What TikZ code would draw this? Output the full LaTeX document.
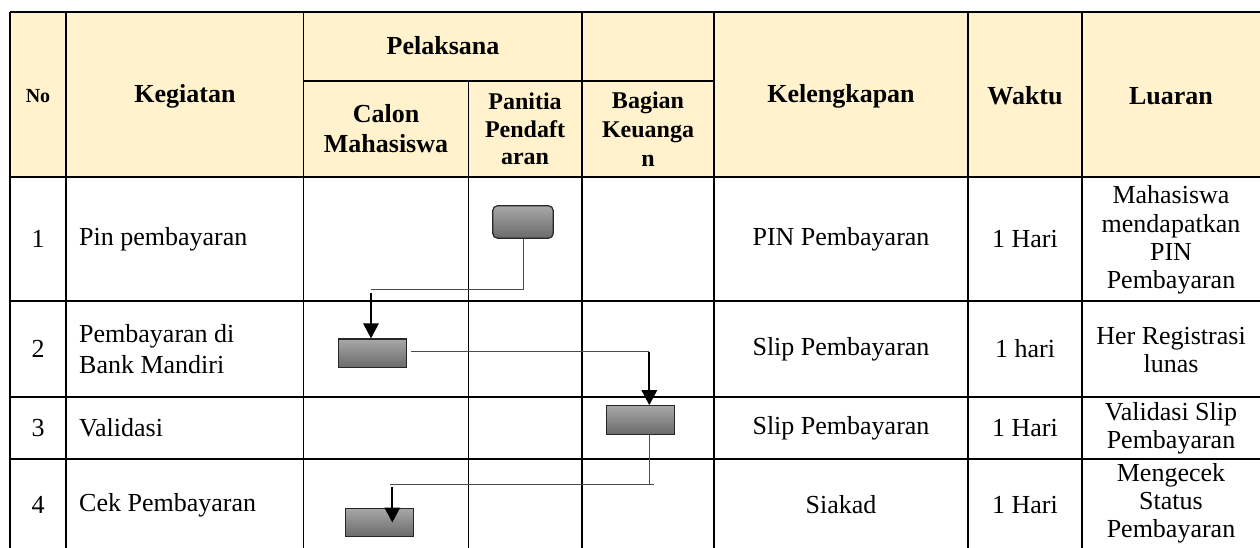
\documentclass[tikz,border=0pt]{standalone}
\usepackage{fontspec}
\setmainfont{Liberation Serif}
\usetikzlibrary{arrows.meta}
\definecolor{headfill}{HTML}{FFF2CC}
\definecolor{boxtop}{HTML}{A8A8A8}
\definecolor{boxbot}{HTML}{6A6A6A}
\tikzset{
  tabline/.style={line width=1.8pt},
  headtext/.style={font=\bfseries\fontsize{26}{30}\selectfont, align=center, inner sep=0pt},
  celltext/.style={font=\fontsize{26}{29}\selectfont, align=center, inner sep=0pt},
  flowbox/.style={draw=black!85, line width=1.2pt, top color=boxtop, bottom color=boxbot, inner sep=0pt},
  link/.style={draw=black!70, line width=1pt},
  flowarrow/.style={line width=1.8pt, -{Triangle[width=15.5pt,length=15pt]}},
}
\begin{document}
\begin{tikzpicture}[x=1pt, y=-1pt]
  \useasboundingbox (0,0) rectangle (1260,548);
  \clip (0,0) rectangle (1260,548);

  \fill[headfill] (10,11.7) rectangle (1261,176.7);

  \draw[tabline] (10,11.7) -- (1261,11.7);
  \draw[tabline] (303.5,80.7) -- (714,80.7);
  \draw[tabline] (10,176.7) -- (1261,176.7);
  \draw[tabline] (10,300.7) -- (1261,300.7);
  \draw[tabline] (10,396.7) -- (1261,396.7);
  \draw[tabline] (10,459) -- (1261,459);
  \draw[tabline] (10,551) -- (1261,551);

  \draw[tabline] (10,11.7) -- (10,560);
  \draw[tabline] (66,11.7) -- (66,560);
  \draw[tabline] (303.5,11.7) -- (303.5,560);
  \draw[tabline] (468.5,80.7) -- (468.5,560);
  \draw[tabline] (582,11.7) -- (582,560);
  \draw[tabline] (714,11.7) -- (714,560);
  \draw[tabline] (968,11.7) -- (968,560);
  \draw[tabline] (1082,11.7) -- (1082,560);
  \draw[tabline] (1261,11.7) -- (1261,560);

  \node[headtext, font=\bfseries\fontsize{20}{24}\selectfont] (hno) at (38,96) {No};
  \node[headtext] (hkeg) at (185,96) {Kegiatan};
  \node[headtext] (hpel) at (443,46) {Pelaksana};
  \node[headtext] (hcalon) at (386,129) {Calon\\Mahasiswa};
  \node[headtext, font=\bfseries\fontsize{24}{27.5}\selectfont] (hpanitia) at (525,129) {Panitia\\Pendaft\\aran};
  \node[headtext, font=\bfseries\fontsize{24}{29}\selectfont] (hbagian) at (648,129) {Bagian\\Keuanga\\n};
  \node[headtext] (hkel) at (841,96) {Kelengkapan};
  \node[headtext] (hwaktu) at (1025,96) {Waktu};
  \node[headtext] (hluaran) at (1171,96) {Luaran};

  \node[celltext] (n1) at (38,239) {1};
  \node[celltext] (n2) at (38,349) {2};
  \node[celltext] (n3) at (38,428) {3};
  \node[celltext] (n4) at (38,505) {4};

  \node[celltext, anchor=west, align=left] (k1) at (79,239) {Pin pembayaran};
  \node[celltext, anchor=west, align=left, font=\fontsize{26}{31}\selectfont] (k2) at (79,349) {Pembayaran di\\Bank Mandiri};
  \node[celltext, anchor=west, align=left] (k3) at (79,428) {Validasi};
  \node[celltext, anchor=west, align=left] (k4) at (79,505) {Cek Pembayaran};

  \node[celltext] (l1) at (841,239) {PIN Pembayaran};
  \node[celltext] (l2) at (841,349) {Slip Pembayaran};
  \node[celltext] (l3) at (841,428) {Slip Pembayaran};
  \node[celltext] (l4) at (841,505) {Siakad};

  \node[celltext] (w1) at (1025,239) {1 Hari};
  \node[celltext] (w2) at (1025,349) {1 hari};
  \node[celltext] (w3) at (1025,428) {1 Hari};
  \node[celltext] (w4) at (1025,505) {1 Hari};

  \node[celltext, font=\fontsize{26}{28.3}\selectfont] (o1) at (1171,240) {Mahasiswa\\mendapatkan\\PIN\\Pembayaran};
  \node[celltext, font=\fontsize{26}{28}\selectfont] (o2) at (1171,350) {Her Registrasi\\lunas};
  \node[celltext, font=\fontsize{26}{28}\selectfont] (o3) at (1171,428) {Validasi Slip\\Pembayaran};
  \node[celltext, font=\fontsize{26}{28}\selectfont] (o4) at (1171,503) {Mengecek\\Status\\Pembayaran};

  \node[flowbox, rounded corners=5pt, minimum width=60.6pt, minimum height=32.6pt] (pinbox) at (523,222) {};
  \node[flowbox, minimum width=68pt, minimum height=28.7pt] (paybox) at (372.5,353.3) {};
  \node[flowbox, minimum width=67.6pt, minimum height=28.6pt] (valbox) at (640.5,420) {};
  \node[flowbox, minimum width=68pt, minimum height=28.4pt] (cekbox) at (379.3,522.5) {};

  \coordinate (c1) at (371,289);
  \coordinate (a1) at (371,293.3);
  \coordinate (c2) at (649.3,351.5);
  \coordinate (c3) at (649.3,484);
  \coordinate (c3end) at (390,484);
  \coordinate (a3) at (392.3,487.3);

  \draw[link] (pinbox.south) |- (c1);
  \draw[flowarrow] (a1) -- (a1 |- paybox.north);
  \draw[link] ([xshift=4pt]paybox.east |- c2) -- (c2);
  \draw[flowarrow] (c2) -- (c2 |- valbox.north);
  \draw[link] (c3 |- valbox.south) -- (c3);
  \draw[link] ([xshift=5pt]c3) -- (c3end);
  \draw[flowarrow] (a3) -- (a3 |- cekbox.center);
\end{tikzpicture}
\end{document}
